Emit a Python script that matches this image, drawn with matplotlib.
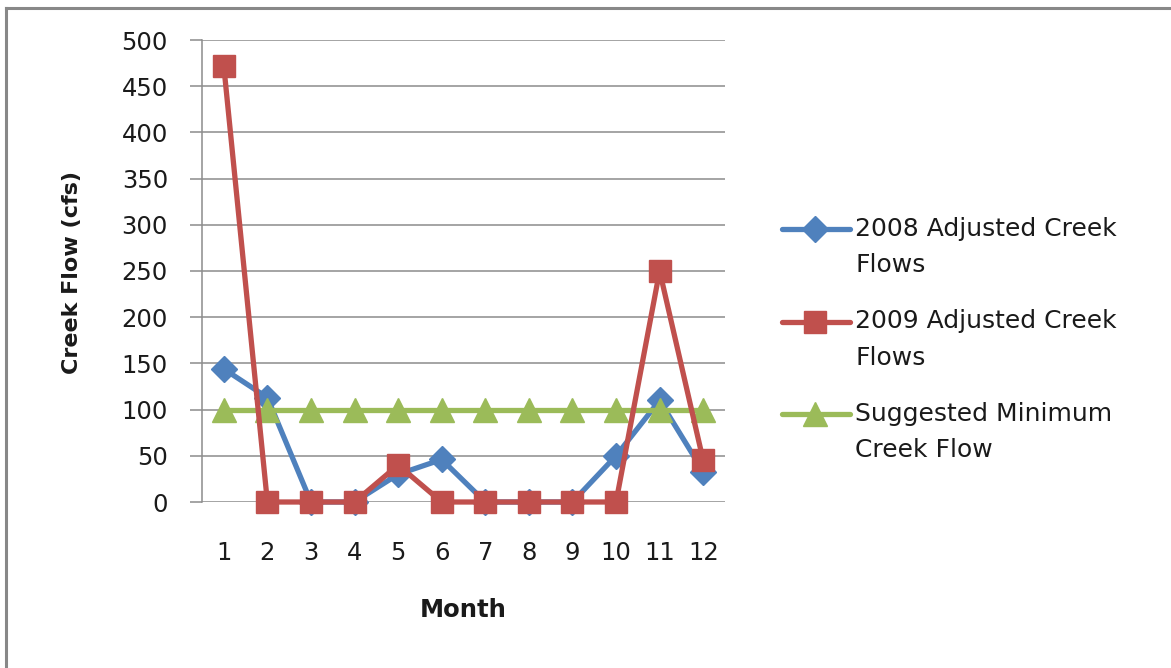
import matplotlib
matplotlib.use("Agg")
import matplotlib.pyplot as plt
from matplotlib.lines import Line2D

months = [1, 2, 3, 4, 5, 6, 7, 8, 9, 10, 11, 12]
flow_2008 = [144, 113, 0, 0, 30, 46, 0, 0, 0, 50, 110, 33]
flow_2009 = [472, 0, 0, 0, 40, 0, 0, 0, 0, 0, 250, 45]
min_flow = [100, 100, 100, 100, 100, 100, 100, 100, 100, 100, 100, 100]
y_ticks = [0, 50, 100, 150, 200, 250, 300, 350, 400, 450, 500]

labels = ["2008 Adjusted Creek\nFlows", "2009 Adjusted Creek\nFlows",
          "Suggested Minimum\nCreek Flow"]
BLUE, RED, GREEN = "#4F81BD", "#C0504D", "#9BBB59"
GRID = "#8C8C8C"
TXT = "#1a1a1a"
FS = 17.5
LW = 3.8

plt.rcParams["font.family"] = ["DejaVu Sans"]
W, H = 1171, 668
fig = plt.figure(figsize=(W / 100, H / 100), dpi=100)
ax = fig.add_axes([202 / W, 1 - 502 / H, (725 - 202) / W, (502 - 40) / H])

ax.plot(months, flow_2008, color=BLUE, lw=LW, marker="D", ms=13,
        zorder=3, solid_joinstyle="round", clip_on=False)
ax.plot(months, min_flow, color=GREEN, lw=LW, marker="^", ms=17,
        zorder=4, clip_on=False)
ax.plot(months, flow_2009, color=RED, lw=LW, marker="s", ms=16.5,
        zorder=5, solid_joinstyle="round", clip_on=False)

ax.set_xlim(0.5, 12.5)
ax.set_ylim(0, 500)
ax.set_xticks(months)
ax.set_yticks(y_ticks)
ax.tick_params(axis="x", length=0, pad=28, labelsize=FS, colors=TXT)
ax.tick_params(axis="y", length=8.5, width=1.1, color=GRID, pad=16,
               labelsize=FS, labelcolor=TXT)
ax.grid(axis="y", color=GRID, lw=1.1)
ax.set_axisbelow(True)
for s in ["top", "right", "bottom"]:
    ax.spines[s].set_visible(False)
ax.spines["left"].set_color(GRID)
ax.spines["left"].set_linewidth(1.1)

fig.text(72 / W, 1 - 272 / H, "Creek Flow (cfs)", rotation=90,
         ha="center", va="center", fontsize=16, fontweight="bold",
         color=TXT)
fig.text(463 / W, 1 - 610 / H, "Month", ha="center", va="center",
         fontsize=FS, fontweight="bold", color=TXT)

# legend drawn by hand so the symbol sits beside the first line of each label
styles = [(BLUE, "D", 13), (RED, "s", 16.5), (GREEN, "^", 17)]
for i, ((c, m, s), txt) in enumerate(zip(styles, labels)):
    yc = 1 - (229 + 92.5 * i) / H
    fig.add_artist(Line2D([782 / W, 850 / W], [yc, yc], color=c, lw=LW,
                          solid_capstyle="round"))
    fig.add_artist(Line2D([815 / W], [yc], color=c, marker=m, ms=s, lw=0))
    fig.text(855 / W, yc + 12 / H, txt, ha="left", va="top", fontsize=FS + 0.5,
             color=TXT, linespacing=1.65)

# outer frame (top and left edges)
fig.add_artist(Line2D([6 / W, 1], [1 - 8 / H, 1 - 8 / H], color="#888888", lw=2.2))
fig.add_artist(Line2D([6 / W, 6 / W], [0, 1 - 8 / H], color="#888888", lw=2.2))

fig.savefig("out.png", dpi=100)
